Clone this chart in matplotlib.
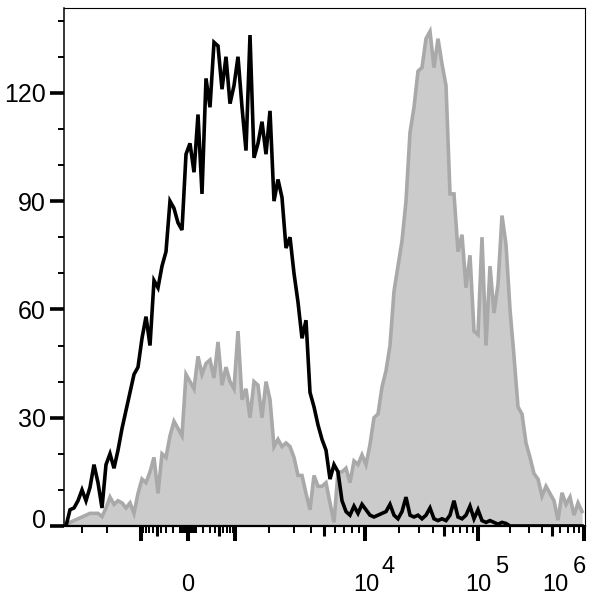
import numpy as np
import matplotlib
matplotlib.use("Agg")
import matplotlib.pyplot as plt
from matplotlib.transforms import ScaledTranslation

plt.rcParams['font.family'] = ['Liberation Sans', 'DejaVu Sans']

# ---------------- data (counts per display channel) ----------------
black_counts = [
    0, 4.5, 5, 7, 10, 7, 10.7, 17, 12, 5,
    17, 20, 16, 21, 27, 32, 37, 42, 44, 52,
    58, 50, 68, 66, 72, 76, 90, 88, 84, 82,
    103, 106, 98, 114, 92, 124, 116, 134, 133, 121,
    130, 117, 122, 130, 116, 104, 136, 102, 106, 112,
    103, 115, 90, 96, 91, 77, 80, 70, 62, 52,
    57, 37, 33, 28, 24, 21, 13, 17, 15, 7,
    4, 3, 5.5, 3.5, 6, 4.5, 3, 2.5, 3, 3.5,
    4, 6, 3, 2, 4, 8, 3, 2.5, 3, 2,
    3, 5, 2, 1.5, 2, 1.5, 3, 7, 2.5, 2,
    3, 5.5, 2, 4.5, 1.5, 1, 1.5, 1, 0.5, 1,
    0.7, 0, 0, 0, 0, 0, 0, 0, 0, 0,
    0, 0, 0, 0, 0, 0, 0, 0, 0, 0,
]
gray_counts = [
    0.5, 1, 1.5, 2, 2.5, 3, 3.5, 3.5, 3.5, 2.6,
    5, 8, 6, 7, 6.4, 5, 6.4, 3.5, 9, 13,
    12, 15, 19, 9, 20, 19, 25, 29, 27, 25,
    42, 40, 38, 47, 42, 45, 46, 41, 51, 39,
    44, 40, 38, 54, 35, 38, 30, 40, 39, 30,
    40, 35, 22, 24, 22, 23, 22, 19, 14, 14,
    9, 4.5, 14, 11, 11, 12, 6.4, 1, 15, 15,
    16, 12, 18, 17, 19.7, 17, 22.6, 30, 31, 38.5,
    43, 50, 65, 72, 79, 90, 109, 116, 126, 127,
    135, 137, 127, 135, 128, 122, 92, 92, 76, 80.7,
    66, 75, 54, 53, 80, 50, 72, 59, 67, 86,
    78, 60, 47, 33, 31, 23, 19, 14.5, 13, 8.3,
    11, 9, 7, 1.6, 9.2, 6, 8, 3, 6.4, 4,
]
y_major_ticks = [0, 30, 60, 90, 120]
y_minor_ticks = [10, 20, 40, 50, 70, 80, 100, 110, 130, 140]
x_big_ticks = [-1e3, 0, 1e3, 1e4, 1e5, 1e6]
x_mid_ticks = [-500, 500, 5e3, 5e4, 5e5]
x_small_ticks = ([-v for v in (3e3, 2e3)]
                 + [s * v for s in (-1, 1) for v in (10, 20, 30, 40, 50, 60, 70, 80, 90,
                                                     100, 200, 300, 400, 600, 700, 800, 900)]
                 + [k * 1e3 for k in (2, 3, 4, 6, 7, 8, 9)]
                 + [k * 1e4 for k in (2, 3, 4, 6, 7, 8, 9)]
                 + [k * 1e5 for k in (2, 3, 4, 6, 7, 8, 9)])
x_label_zero = "0"
x_decades = [1e4, 1e5, 1e6]
x_decade_exps = ["4", "5", "6"]

# ---------------- biexponential-like display transform ----------------
A = 300.0
anchor_vals = np.array([-1e7, -1e6, -1e5, -1e4, -3e3, -2e3, -1e3, 0,
                        1e3, 2e3, 3e3, 1e4, 1e5, 1e6, 1e7])
_pos = np.array([0, 47, 81, 106, 177, 290, 396, 502], dtype=float)
anchor_pos = np.concatenate([-_pos[:0:-1], _pos])
anchor_u = np.arcsinh(anchor_vals / A)


def fwd(x):
    x = np.asarray(x, dtype=float)
    return np.interp(np.arcsinh(x / A), anchor_u, anchor_pos)


def inv(p):
    p = np.asarray(p, dtype=float)
    return A * np.sinh(np.interp(p, anchor_pos, anchor_u))


# ---------------- figure ----------------
W, H = 596, 600
fig = plt.figure(figsize=(W / 100, H / 100), dpi=100)
L, R, T, B = 64, 585, 8, 526
ax = fig.add_axes([L / W, 1 - B / H, (R - L) / W, (B - T) / H])

ax.set_xscale('function', functions=(fwd, inv))
disp_lo, disp_hi = -124.0, 397.0
ax.set_xlim(inv(disp_lo), inv(disp_hi))
ax.set_ylim(0, 143.5)

n = len(black_counts)
edges = np.linspace(disp_lo, disp_lo + 4 * n, n + 1)
centers = inv(0.5 * (edges[:-1] + edges[1:]))

ax.fill_between(centers, gray_counts, 0, color='#cbcbcb', lw=0, zorder=1)
ax.plot(centers, gray_counts, color='#a9a9a9', lw=2.6, zorder=2,
        solid_joinstyle='miter')
ax.plot(centers, black_counts, color='black', lw=2.6, zorder=3,
        solid_joinstyle='miter')

# spines
for side, lw in (('top', 0.8), ('right', 0.8), ('left', 1.1), ('bottom', 1.6)):
    ax.spines[side].set_linewidth(lw)
    ax.spines[side].set_color('black')

# y ticks
ax.set_yticks(y_major_ticks)
ax.set_yticks(y_minor_ticks, minor=True)
ax.set_yticklabels([str(v) for v in y_major_ticks])
ax.tick_params(axis='y', which='major', length=10, width=2.6, pad=3,
               labelsize=18, direction='out')
ax.tick_params(axis='y', which='minor', length=4.5, width=1.4, direction='out')
# the "0" label sits slightly above its tick in the original
lbl0 = ax.get_yticklabels()[0]
lbl0.set_transform(lbl0.get_transform() + ScaledTranslation(0, 7 / 100, fig.dpi_scale_trans))

# x ticks: big as major, others as minor with individual sizes
minor_all = x_mid_ticks + x_small_ticks
ax.set_xticks(x_big_ticks)
ax.set_xticks(minor_all, minor=True)
ax.set_xticklabels([''] * len(x_big_ticks))
ax.tick_params(axis='x', which='major', length=11, width=2.9, direction='out')
ax.tick_params(axis='x', which='minor', length=5, width=1.4, direction='out')
for t, v in zip(ax.xaxis.get_minor_ticks(len(minor_all)), minor_all):
    if v in x_mid_ticks:
        t.tick1line.set_markersize(7.5)
        t.tick1line.set_markeredgewidth(2.2)

# x labels (full-size raised exponents as in the original)
px = 0.72  # points per pixel
ax.annotate(x_label_zero, xy=(0, 0), xycoords=('data', 'axes fraction'),
            xytext=(0, -65 * px), textcoords='offset points',
            ha='center', va='baseline', fontsize=17)
base_dx = [1, 0, -28.5]
exp_dx = [16, 17, -11]
for v, e, dx, ex in zip(x_decades, x_decade_exps, base_dx, exp_dx):
    ax.annotate("10", xy=(v, 0), xycoords=('data', 'axes fraction'),
                xytext=(dx * px, -65 * px), textcoords='offset points',
                ha='center', va='baseline', fontsize=17)
    ax.annotate(e, xy=(v, 0), xycoords=('data', 'axes fraction'),
                xytext=(ex * px, -47 * px), textcoords='offset points',
                ha='left', va='baseline', fontsize=17)

fig.savefig('out.png', dpi=100)
